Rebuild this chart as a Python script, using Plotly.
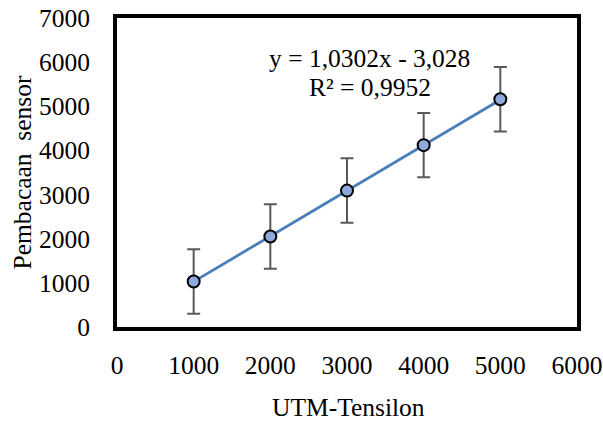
import plotly.graph_objects as go

x_vals = [1000, 2000, 3000, 4000, 5000]
y_vals = [1030, 2050, 3090, 4120, 5160]
y_err = [730, 730, 730, 730, 730]
slope = 1.0302
intercept = -3.028
x_ticks = [0, 1000, 2000, 3000, 4000, 5000, 6000]
y_ticks = [0, 1000, 2000, 3000, 4000, 5000, 6000, 7000]
eq_text = "y = 1,0302x - 3,028"
r2_text = "R² = 0,9952"
x_title = "UTM-Tensilon"
y_title = "Pembacaan\u00a0 sensor"

FONT = "Liberation Serif, Times New Roman, serif"
FS = 25.5

W, H = 603, 423
PL, PR, PT, PB = 117, 577, 18, 327

trend_x = [x_vals[0], x_vals[-1]]
trend_y = [slope * v + intercept for v in trend_x]

fig = go.Figure()
fig.add_trace(go.Scatter(
    x=trend_x, y=trend_y, mode="lines",
    line=dict(color="#4A7EBB", width=2.8),
    hoverinfo="skip", showlegend=False))
fig.add_trace(go.Scatter(
    x=x_vals, y=y_vals, mode="markers",
    marker=dict(size=12, color="#8EA9DB", line=dict(color="black", width=2)),
    error_y=dict(type="data", array=y_err, visible=True,
                 color="#595959", thickness=2, width=6.5),
    showlegend=False))

axis_common = dict(
    showline=True, linecolor="black", linewidth=4, mirror=True,
    showgrid=False, zeroline=False, ticks="", automargin=False,
    tickfont=dict(family=FONT, size=FS, color="black"),
)
fig.update_xaxes(range=[0, 6000], tickvals=x_ticks,
                 ticktext=[str(v) for v in x_ticks],
                 ticklabelstandoff=12, **axis_common)
fig.update_yaxes(range=[0, 7000], tickvals=y_ticks,
                 ticktext=[str(v) for v in y_ticks],
                 ticklabelstandoff=18, **axis_common)

fig.add_annotation(x=3290, y=6080, xref="x", yref="y", text=eq_text,
                   showarrow=False, font=dict(family=FONT, size=FS, color="black"),
                   xanchor="center", yanchor="middle")
fig.add_annotation(x=3300, y=5420, xref="x", yref="y", text=r2_text,
                   showarrow=False, font=dict(family=FONT, size=FS, color="black"),
                   xanchor="center", yanchor="middle")
fig.add_annotation(x=(348 - PL) / (PR - PL), y=-(407 - PB) / (PB - PT),
                   xref="paper", yref="paper", text=x_title,
                   showarrow=False, font=dict(family=FONT, size=FS, color="black"),
                   xanchor="center", yanchor="middle")
fig.add_annotation(x=-(PL - 22) / (PR - PL), y=0.5, xref="paper", yref="paper",
                   text=y_title, textangle=-90, showarrow=False,
                   font=dict(family=FONT, size=FS, color="black"),
                   xanchor="center", yanchor="middle")

fig.update_layout(
    width=W, height=H,
    margin=dict(l=PL, r=W - PR, t=PT, b=H - PB, autoexpand=False),
    paper_bgcolor="white", plot_bgcolor="white",
    font=dict(family=FONT, size=FS, color="black"),
)

fig.write_html("out.html",
               config={"displayModeBar": False},
               post_script="document.body.style.margin='0';document.body.style.overflow='hidden';")
